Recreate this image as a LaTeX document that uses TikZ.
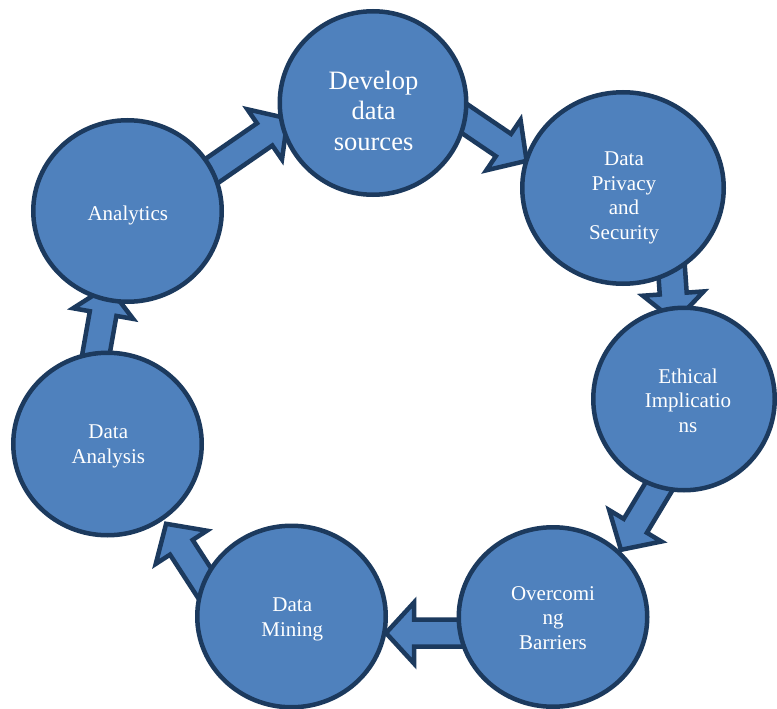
\documentclass[tikz,border=0pt]{standalone}
\usepackage{fontspec}
\setmainfont{Liberation Serif}
\usetikzlibrary{shapes.geometric,calc}

\definecolor{bluefill}{HTML}{4F81BD}
\definecolor{rim}{HTML}{1C3A5E}

\tikzset{
  bubble/.style={ellipse, draw=rim, fill=bluefill, line width=4.5pt, inner sep=0pt},
  caption/.style={text=white, align=center, inner sep=0pt,
                  font=\fontsize{21}{24.5}\selectfont},
  bigcaption/.style={caption, font=\fontsize{26.5}{30.5}\selectfont},
  arrowbody/.style={draw=rim, fill=bluefill, line width=4.5pt, line join=miter},
}

% fat block arrow from tail coordinate #1 to tip coordinate #2
\newcommand\blockarrow[2]{%
  \coordinate (#2-base) at ($(#2)!28pt!(#1)$);
  \draw[arrowbody]
    ($(#1)!13.5pt!90:(#2)$) -- ($(#2-base)!13.5pt!90:(#2)$)
    -- ($(#2-base)!30.5pt!90:(#2)$) -- (#2)
    -- ($(#2-base)!30.5pt!-90:(#2)$) -- ($(#2-base)!13.5pt!-90:(#2)$)
    -- ($(#1)!13.5pt!-90:(#2)$) -- cycle;
}

\begin{document}
\begin{tikzpicture}[x=1pt,y=-1pt]
  \fill[white] (0,0) rectangle (777,709);
  \useasboundingbox (0,0) rectangle (777,709);

  % arrow end points
  \coordinate (a1s) at (197.6,180.7); \coordinate (a1e) at (287.7,118.5);
  \coordinate (a2s) at (455.5,112.5); \coordinate (a2e) at (526.6,160.8);
  \coordinate (a3s) at (666.9,203.8); \coordinate (a3e) at (675.2,321.5);
  \coordinate (a4s) at (678.3,454.3); \coordinate (a4e) at (620.9,549.8);
  \coordinate (a5s) at (500,633);     \coordinate (a5e) at (386,633);
  \coordinate (a6s) at (215.4,599.8); \coordinate (a6e) at (166.1,523.8);
  \coordinate (a7s) at (87.6,401.4);  \coordinate (a7e) at (108,286);

  % arrows sit behind the circles
  \blockarrow{a1s}{a1e}
  \blockarrow{a2s}{a2e}
  \blockarrow{a3s}{a3e}
  \blockarrow{a4s}{a4e}
  \blockarrow{a5s}{a5e}
  \blockarrow{a6s}{a6e}
  \blockarrow{a7s}{a7e}

  % stages of the cycle
  \node[bubble, minimum width=186.5pt, minimum height=183.5pt] (dev)  at (373,103) {};
  \node[bubble, minimum width=201.5pt, minimum height=191.5pt] (priv) at (623,188) {};
  \node[bubble, minimum width=181.5pt, minimum height=182.5pt] (eth)  at (684,399) {};
  \node[bubble, minimum width=188.5pt, minimum height=179.5pt] (over) at (553,617) {};
  \node[bubble, minimum width=188.5pt, minimum height=181.5pt] (mine) at (291.5,616.5) {};
  \node[bubble, minimum width=188.5pt, minimum height=182.5pt] (anal) at (107.5,444) {};
  \node[bubble, minimum width=188.5pt, minimum height=181.5pt] (anly) at (127.5,211) {};

  % labels
  \node[bigcaption] (devt)  at (373.6,110.5) {Develop\\data\\sources};
  \node[caption]    (privt) at (624,198)   {Data\\Privacy\\and\\Security};
  \node[caption]    (etht)  at (688,400.5) {Ethical\\Implicatio\\ns};
  \node[caption]    (overt) at (553,618)   {Overcomi\\ng\\Barriers};
  \node[caption]    (minet) at (292.3,619.5) {Data\\Mining};
  \node[caption]    (analt) at (108.3,446.5) {Data\\Analysis};
  \node[caption]    (anlyt) at (127.8,215.5) {Analytics};
\end{tikzpicture}
\end{document}
